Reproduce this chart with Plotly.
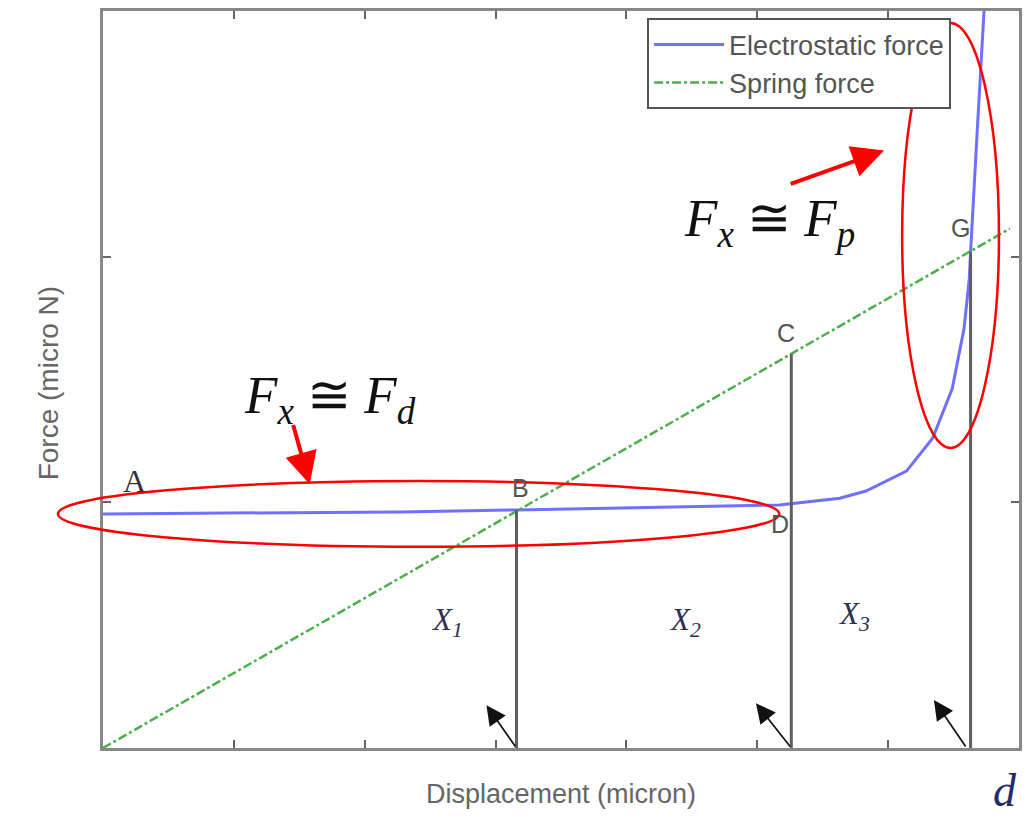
import plotly.graph_objects as go

# Electrostatic force along the displacement (micron, micro N)
disp_es = [0.0, 0.74, 1.50, 2.27, 3.16, 3.79, 4.56, 5.17, 5.63, 5.83, 6.14,
           6.34, 6.49, 6.58, 6.62, 6.63, 6.68, 6.73, 6.77]
force_es = [0.953, 0.955, 0.957, 0.961, 0.969, 0.975, 0.981, 0.989, 1.017, 1.046, 1.127,
            1.261, 1.463, 1.707, 1.909, 2.019, 2.505, 3.0, 3.35]

# Linear spring force
disp_spring = [0.0, 6.93]
force_spring = [0.0, 2.114]

# Marked operating points
point_names = ["A", "B", "C", "D", "G"]
point_disp = [0.0, 3.16, 5.26, 5.26, 6.63]
point_force = [0.953, 0.969, 1.604, 0.985, 2.02]

# Region boundaries (vertical drops to the axis)
boundary_disp = [3.16, 5.26, 6.63]
boundary_top = [0.969, 1.604, 2.02]

# Region names
region_names = ["X<sub>1</sub>", "X<sub>2</sub>", "X<sub>3</sub>"]
region_disp = [2.63, 4.45, 5.74]
region_force = [0.511, 0.511, 0.539]

X_RANGE = [0, 7]
Y_RANGE = [0, 3]


def to_paper(x, y):
    px = (x - X_RANGE[0]) / (X_RANGE[1] - X_RANGE[0])
    py = (y - Y_RANGE[0]) / (Y_RANGE[1] - Y_RANGE[0])
    return px, py


fig = go.Figure()

fig.add_trace(go.Scatter(
    x=disp_es, y=force_es, mode="lines", name="Electrostatic force",
    line=dict(color="#7070ff", width=3),
))
fig.add_trace(go.Scatter(
    x=disp_spring, y=force_spring, mode="lines", name="Spring force",
    line=dict(color="#4caf4c", width=2.5, dash="dashdot"),
))

for xd, yt in zip(boundary_disp, boundary_top):
    fig.add_trace(go.Scatter(
        x=[xd, xd], y=[0, yt], mode="lines", showlegend=False,
        line=dict(color="#606060", width=3), hoverinfo="skip",
    ))

annotations = []

# point letters
sans = dict(family="Liberation Sans, Arial", size=25, color="#555555")
label_style = {
    "A": dict(xshift=31, yshift=33, font=dict(family="Liberation Serif, serif", size=32, color="#333333")),
    "B": dict(xshift=4, yshift=22, font=sans),
    "C": dict(xshift=-5, yshift=21, font=sans),
    "D": dict(xshift=-11, yshift=-18, font=sans),
    "G": dict(xshift=-10, yshift=24, font=sans),
}
for n, xd, yd in zip(point_names, point_disp, point_force):
    s = label_style[n]
    annotations.append(dict(x=xd, y=yd, xref="x", yref="y", text=n, showarrow=False,
                            xshift=s["xshift"], yshift=s["yshift"], font=s["font"]))

# region labels
for t, xd, yd in zip(region_names, region_disp, region_force):
    annotations.append(dict(x=xd, y=yd, xref="x", yref="y", text="<i>" + t + "</i>",
                            showarrow=False,
                            font=dict(family="Liberation Serif, serif", size=31, color="#2e2e52")))

# black arrows at the region boundaries
black_heads = [(2.93, 0.174), (4.99, 0.182), (6.35, 0.195)]
for (hx, hy), tx in zip(black_heads, [3.16, 5.26, 6.60]):
    annotations.append(dict(x=hx, y=hy, ax=tx, ay=0.0, xref="x", yref="y", axref="x", ayref="y",
                            text="", showarrow=True, arrowhead=2, arrowsize=2.3,
                            arrowwidth=1.7, arrowcolor="#111111"))

# red arrows
annotations.append(dict(x=5.969, y=2.432, ax=5.244, ay=2.294, xref="x", yref="y", axref="x", ayref="y",
                        text="", showarrow=True, arrowhead=2, arrowsize=1.6,
                        arrowwidth=4, arrowcolor="#ff0000"))
annotations.append(dict(x=1.58, y=1.074, ax=1.45, ay=1.321, xref="x", yref="y", axref="x", ayref="y",
                        text="", showarrow=True, arrowhead=2, arrowsize=1.6,
                        arrowwidth=4, arrowcolor="#ff0000"))

# force relations
annotations.append(dict(x=1.733, y=1.42, xref="x", yref="y", showarrow=False,
                        text="<i>F</i><sub><i>x</i></sub> \u2245 <i>F</i><sub><i>d</i></sub>",
                        font=dict(family="Liberation Serif, serif", size=53, color="#111111")))
annotations.append(dict(x=5.092, y=2.14, xref="x", yref="y", showarrow=False,
                        text="<i>F</i><sub><i>x</i></sub> \u2245 <i>F</i><sub><i>p</i></sub>",
                        font=dict(family="Liberation Serif, serif", size=53, color="#111111")))

# axis titles and the gap label
annotations.append(dict(x=-0.079, y=0.495, xref="paper", yref="paper", text="Force (micro N)",
                        textangle=-90, showarrow=False,
                        font=dict(family="Liberation Sans, Arial", size=28, color="#666666")))
annotations.append(dict(x=0.5, y=-0.085, xref="paper", yref="paper", text="Displacement (micron)",
                        showarrow=False,
                        font=dict(family="Liberation Sans, Arial", size=27, color="#666666")))
annotations.append(dict(x=1.0, y=-0.095, xref="paper", yref="paper", text="<i>d</i>",
                        showarrow=False,
                        font=dict(family="Liberation Serif, serif", size=46, color="#1f2d6e")))

# highlighted regions (ellipses)
shapes = []
for cx, cy, a, b in [(2.412, 0.953, 2.756, 0.134), (6.477, 2.086, 0.370, 0.865)]:
    x0, y0 = to_paper(cx - a, cy - b)
    x1, y1 = to_paper(cx + a, cy + b)
    shapes.append(dict(type="circle", xref="paper", yref="paper", x0=x0, y0=y0, x1=x1, y1=y1,
                       line=dict(color="#ff0000", width=2.5), layer="above"))

fig.update_layout(
    width=1030, height=827,
    margin=dict(l=103, r=10, t=8, b=79),
    paper_bgcolor="white", plot_bgcolor="white",
    annotations=annotations, shapes=shapes,
    legend=dict(x=0.594, y=0.99, xanchor="left", yanchor="top",
                bordercolor="#555555", borderwidth=2, bgcolor="white", itemwidth=70,
                font=dict(family="Liberation Sans, Arial", size=27, color="#555555")),
    showlegend=True,
)
axis_common = dict(showline=True, linecolor="#888888", linewidth=3, mirror="ticks",
                   ticks="inside", ticklen=8, tickwidth=2, tickcolor="#666666",
                   showticklabels=False, showgrid=False, zeroline=False)
fig.update_xaxes(range=X_RANGE, dtick=1, **axis_common)
fig.update_yaxes(range=Y_RANGE, dtick=1, **axis_common)

fig.write_html("out.html")
